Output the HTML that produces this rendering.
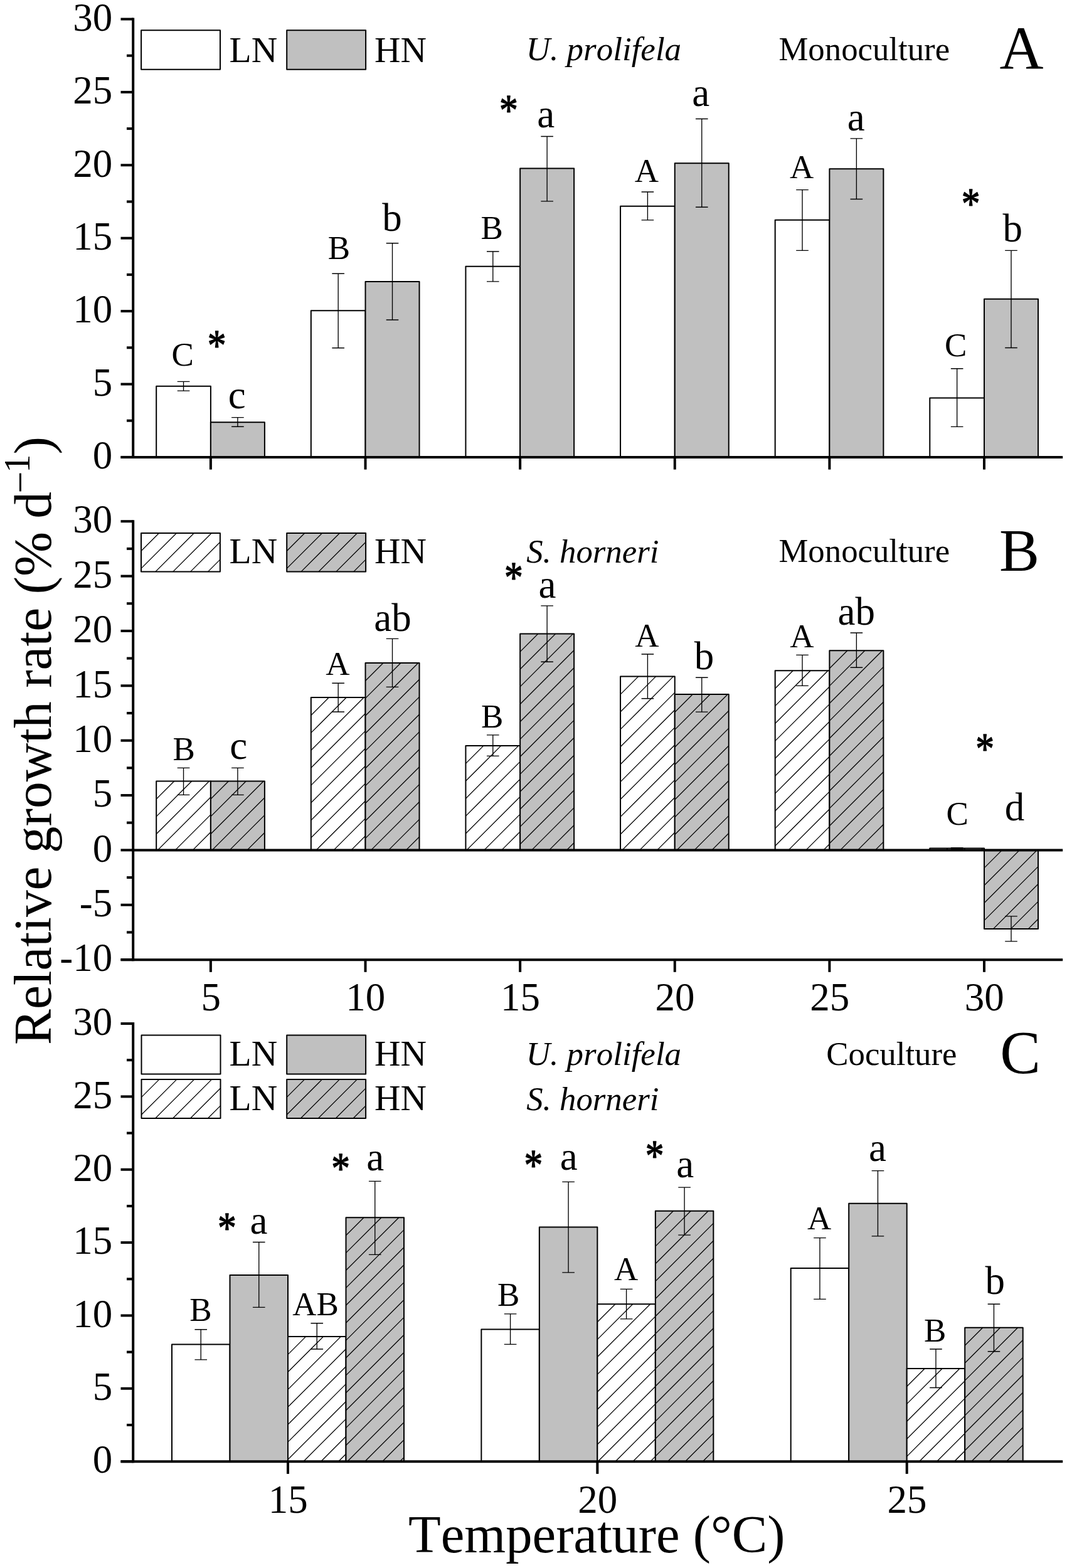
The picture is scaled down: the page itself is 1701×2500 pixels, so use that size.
<!DOCTYPE html>
<html lang="en"><head><meta charset="utf-8"><title>Relative growth rate vs temperature</title>
<style>
html,body{margin:0;padding:0;background:#fff;}
body{width:1701px;height:2500px;overflow:hidden;}
svg{display:block;}
text{font-family:"Liberation Serif",serif;fill:#000;stroke:none;font-kerning:none;}
</style></head><body>
<svg width="1701" height="2500" viewBox="0 0 1701 2500" stroke="#000" fill="none">
<rect width="1701" height="2500" fill="#fff" stroke="none"/>

<g id="panelA">
<rect x="249.2" y="615.7" width="86.7" height="113.2" fill="#fff" stroke-width="2.0" stroke-linejoin="round"/>
<rect x="335.9" y="673.3" width="86" height="55.6" fill="#c0c0c0" stroke-width="2.0" stroke-linejoin="round"/>
<path d="M292.55 608.3V623.1M282.75 608.3H302.35M282.75 623.1H302.35" stroke-width="1.35"/>
<path d="M378.9 665.6V680.2M369.1 665.6H388.7M369.1 680.2H388.7" stroke-width="1.35"/>
<rect x="495.82" y="495.2" width="86.7" height="233.7" fill="#fff" stroke-width="2.0" stroke-linejoin="round"/>
<rect x="582.52" y="449" width="86" height="279.9" fill="#c0c0c0" stroke-width="2.0" stroke-linejoin="round"/>
<path d="M539.17 436.2V554.7M529.37 436.2H548.97M529.37 554.7H548.97" stroke-width="1.35"/>
<path d="M625.52 387.7V510M615.72 387.7H635.32M615.72 510H635.32" stroke-width="1.35"/>
<rect x="742.44" y="424.7" width="86.7" height="304.2" fill="#fff" stroke-width="2.0" stroke-linejoin="round"/>
<rect x="829.14" y="268.6" width="86" height="460.3" fill="#c0c0c0" stroke-width="2.0" stroke-linejoin="round"/>
<path d="M785.79 401V448.9M775.99 401H795.59M775.99 448.9H795.59" stroke-width="1.35"/>
<path d="M872.14 217.5V320.9M862.34 217.5H881.94M862.34 320.9H881.94" stroke-width="1.35"/>
<rect x="989.06" y="328.8" width="86.7" height="400.1" fill="#fff" stroke-width="2.0" stroke-linejoin="round"/>
<rect x="1075.76" y="260.2" width="86" height="468.7" fill="#c0c0c0" stroke-width="2.0" stroke-linejoin="round"/>
<path d="M1032.41 306V350.9M1022.61 306H1042.21M1022.61 350.9H1042.21" stroke-width="1.35"/>
<path d="M1118.76 189.5V330.2M1108.96 189.5H1128.56M1108.96 330.2H1128.56" stroke-width="1.35"/>
<rect x="1235.68" y="350.8" width="86.7" height="378.1" fill="#fff" stroke-width="2.0" stroke-linejoin="round"/>
<rect x="1322.38" y="269.3" width="86" height="459.6" fill="#c0c0c0" stroke-width="2.0" stroke-linejoin="round"/>
<path d="M1279.03 302.6V399.4M1269.23 302.6H1288.83M1269.23 399.4H1288.83" stroke-width="1.35"/>
<path d="M1365.38 220.9V317.5M1355.58 220.9H1375.18M1355.58 317.5H1375.18" stroke-width="1.35"/>
<rect x="1482.3" y="634.4" width="86.7" height="94.5" fill="#fff" stroke-width="2.0" stroke-linejoin="round"/>
<rect x="1569" y="476.8" width="86" height="252.1" fill="#c0c0c0" stroke-width="2.0" stroke-linejoin="round"/>
<path d="M1525.65 587.7V680.4M1515.85 587.7H1535.45M1515.85 680.4H1535.45" stroke-width="1.35"/>
<path d="M1612 399.3V554.5M1602.2 399.3H1621.8M1602.2 554.5H1621.8" stroke-width="1.35"/>
<path d="M212.2 28.5L212.2 730.9" stroke-width="4.0"/>
<path d="M192.5 30.5L212.2 30.5" stroke-width="4.0"/>
<text x="179.2" y="48.7" font-size="63" text-anchor="end">30</text>
<path d="M202 88.7L212.2 88.7" stroke-width="4.0"/>
<path d="M192.5 146.9L212.2 146.9" stroke-width="4.0"/>
<text x="179.2" y="165.1" font-size="63" text-anchor="end">25</text>
<path d="M202 205.1L212.2 205.1" stroke-width="4.0"/>
<path d="M192.5 263.3L212.2 263.3" stroke-width="4.0"/>
<text x="179.2" y="281.5" font-size="63" text-anchor="end">20</text>
<path d="M202 321.5L212.2 321.5" stroke-width="4.0"/>
<path d="M192.5 379.7L212.2 379.7" stroke-width="4.0"/>
<text x="179.2" y="397.9" font-size="63" text-anchor="end">15</text>
<path d="M202 437.9L212.2 437.9" stroke-width="4.0"/>
<path d="M192.5 496.1L212.2 496.1" stroke-width="4.0"/>
<text x="179.2" y="514.3" font-size="63" text-anchor="end">10</text>
<path d="M202 554.3L212.2 554.3" stroke-width="4.0"/>
<path d="M192.5 612.5L212.2 612.5" stroke-width="4.0"/>
<text x="179.2" y="630.7" font-size="63" text-anchor="end">5</text>
<path d="M202 670.7L212.2 670.7" stroke-width="4.0"/>
<path d="M192.5 728.9L212.2 728.9" stroke-width="4.0"/>
<text x="179.2" y="747.1" font-size="63" text-anchor="end">0</text>
<path d="M192.5 728.9L1694.2 728.9" stroke-width="4.0"/>
<path d="M335.9 728.9L335.9 748.6" stroke-width="4.0"/>
<path d="M582.52 728.9L582.52 748.6" stroke-width="4.0"/>
<path d="M829.14 728.9L829.14 748.6" stroke-width="4.0"/>
<path d="M1075.76 728.9L1075.76 748.6" stroke-width="4.0"/>
<path d="M1322.38 728.9L1322.38 748.6" stroke-width="4.0"/>
<path d="M1569 728.9L1569 748.6" stroke-width="4.0"/>
<rect x="225.1" y="48.3" width="125.9" height="62.4" fill="#fff" stroke-width="2.0" stroke-linejoin="round"/>
<text x="365.6" y="98.8" font-size="57.5">LN</text>
<rect x="457.2" y="48.3" width="125.9" height="62.4" fill="#c0c0c0" stroke-width="2.0" stroke-linejoin="round"/>
<text x="597" y="98.8" font-size="57.5">HN</text>
<text x="838.8" y="96.2" font-size="53.0" font-style="italic">U. prolifela</text>
<text x="1241.4" y="96" font-size="52.8">Monoculture</text>
<text x="1593.45" y="109.3" font-size="97">A</text>
<text x="273.5" y="583.05" font-size="53">C</text>
<text x="363.7" y="650.7" font-size="63">c</text>
<text x="522.75" y="413.4" font-size="53">B</text>
<text x="609.35" y="368.05" font-size="63">b</text>
<text x="766.4" y="380.9" font-size="53">B</text>
<text x="856.2" y="203.05" font-size="63">a</text>
<text x="1011.8" y="289.8" font-size="53">A</text>
<text x="1103.25" y="169.1" font-size="63">a</text>
<text x="1259.05" y="283.6" font-size="53">A</text>
<text x="1350.75" y="208.25" font-size="63">a</text>
<text x="1505.95" y="567.7" font-size="53">C</text>
<text x="1598.5" y="384.6" font-size="63">b</text>
<text transform="translate(345.55 540.65) scale(0.93 1.08)" x="-16" y="30.5" font-size="64" style="stroke:#000;stroke-width:1.3px;stroke-linejoin:round">*</text>
<text transform="translate(810.95 166.2) scale(0.93 1.08)" x="-16" y="30.5" font-size="64" style="stroke:#000;stroke-width:1.3px;stroke-linejoin:round">*</text>
<text transform="translate(1547.5 314.9) scale(0.93 1.08)" x="-16" y="30.5" font-size="64" style="stroke:#000;stroke-width:1.3px;stroke-linejoin:round">*</text>
</g>
<g id="panelB">
<rect x="249.2" y="1245.5" width="86.7" height="109.9" fill="#fff" stroke-width="2.0" stroke-linejoin="round"/>
<path d="M249.2 1274L277.7 1245.5M249.2 1301.9L305.6 1245.5M249.2 1329.8L333.5 1245.5M251.5 1355.4L335.9 1271M279.4 1355.4L335.9 1298.9M307.3 1355.4L335.9 1326.8M335.2 1355.4L335.9 1354.7" stroke-width="1.3" stroke-linecap="butt"/>
<rect x="335.9" y="1245.5" width="86" height="109.9" fill="#c0c0c0" stroke-width="2.0" stroke-linejoin="round"/>
<path d="M335.9 1274L364.4 1245.5M335.9 1301.9L392.3 1245.5M335.9 1329.8L420.2 1245.5M338.2 1355.4L421.9 1271.7M366.1 1355.4L421.9 1299.6M394 1355.4L421.9 1327.5M421.9 1355.4L421.9 1355.4" stroke-width="1.3" stroke-linecap="butt"/>
<path d="M292.55 1224.3V1267.3M282.75 1224.3H302.35M282.75 1267.3H302.35" stroke-width="1.35"/>
<path d="M378.9 1224.3V1267.3M369.1 1224.3H388.7M369.1 1267.3H388.7" stroke-width="1.35"/>
<rect x="495.82" y="1112" width="86.7" height="243.4" fill="#fff" stroke-width="2.0" stroke-linejoin="round"/>
<path d="M495.82 1140.5L524.32 1112M495.82 1168.4L552.22 1112M495.82 1196.3L580.12 1112M495.82 1224.2L582.52 1137.5M495.82 1252.1L582.52 1165.4M495.82 1280L582.52 1193.3M495.82 1307.9L582.52 1221.2M495.82 1335.8L582.52 1249.1M504.12 1355.4L582.52 1277M532.02 1355.4L582.52 1304.9M559.92 1355.4L582.52 1332.8" stroke-width="1.3" stroke-linecap="butt"/>
<rect x="582.52" y="1057" width="86" height="298.4" fill="#c0c0c0" stroke-width="2.0" stroke-linejoin="round"/>
<path d="M582.52 1085.5L611.02 1057M582.52 1113.4L638.92 1057M582.52 1141.3L666.82 1057M582.52 1169.2L668.52 1083.2M582.52 1197.1L668.52 1111.1M582.52 1225L668.52 1139M582.52 1252.9L668.52 1166.9M582.52 1280.8L668.52 1194.8M582.52 1308.7L668.52 1222.7M582.52 1336.6L668.52 1250.6M591.62 1355.4L668.52 1278.5M619.52 1355.4L668.52 1306.4M647.42 1355.4L668.52 1334.3" stroke-width="1.3" stroke-linecap="butt"/>
<path d="M539.17 1089.2V1135M529.37 1089.2H548.97M529.37 1135H548.97" stroke-width="1.35"/>
<path d="M625.52 1018.3V1095.4M615.72 1018.3H635.32M615.72 1095.4H635.32" stroke-width="1.35"/>
<rect x="742.44" y="1188.9" width="86.7" height="166.5" fill="#fff" stroke-width="2.0" stroke-linejoin="round"/>
<path d="M742.44 1217.4L770.94 1188.9M742.44 1245.3L798.84 1188.9M742.44 1273.2L826.74 1188.9M742.44 1301.1L829.14 1214.4M742.44 1329L829.14 1242.3M743.94 1355.4L829.14 1270.2M771.84 1355.4L829.14 1298.1M799.74 1355.4L829.14 1326M827.64 1355.4L829.14 1353.9" stroke-width="1.3" stroke-linecap="butt"/>
<rect x="829.14" y="1010.6" width="86" height="344.8" fill="#c0c0c0" stroke-width="2.0" stroke-linejoin="round"/>
<path d="M829.14 1039.1L857.64 1010.6M829.14 1067L885.54 1010.6M829.14 1094.9L913.44 1010.6M829.14 1122.8L915.14 1036.8M829.14 1150.7L915.14 1064.7M829.14 1178.6L915.14 1092.6M829.14 1206.5L915.14 1120.5M829.14 1234.4L915.14 1148.4M829.14 1262.3L915.14 1176.3M829.14 1290.2L915.14 1204.2M829.14 1318.1L915.14 1232.1M829.14 1346L915.14 1260M847.64 1355.4L915.14 1287.9M875.54 1355.4L915.14 1315.8M903.44 1355.4L915.14 1343.7" stroke-width="1.3" stroke-linecap="butt"/>
<path d="M785.79 1171.8V1205.3M775.99 1171.8H795.59M775.99 1205.3H795.59" stroke-width="1.35"/>
<path d="M872.14 965.8V1055.2M862.34 965.8H881.94M862.34 1055.2H881.94" stroke-width="1.35"/>
<rect x="989.06" y="1078.6" width="86.7" height="276.8" fill="#fff" stroke-width="2.0" stroke-linejoin="round"/>
<path d="M989.06 1107.1L1017.56 1078.6M989.06 1135L1045.46 1078.6M989.06 1162.9L1073.36 1078.6M989.06 1190.8L1075.76 1104.1M989.06 1218.7L1075.76 1132M989.06 1246.6L1075.76 1159.9M989.06 1274.5L1075.76 1187.8M989.06 1302.4L1075.76 1215.7M989.06 1330.3L1075.76 1243.6M991.86 1355.4L1075.76 1271.5M1019.76 1355.4L1075.76 1299.4M1047.66 1355.4L1075.76 1327.3M1075.56 1355.4L1075.76 1355.2" stroke-width="1.3" stroke-linecap="butt"/>
<rect x="1075.76" y="1107" width="86" height="248.4" fill="#c0c0c0" stroke-width="2.0" stroke-linejoin="round"/>
<path d="M1075.76 1135.5L1104.26 1107M1075.76 1163.4L1132.16 1107M1075.76 1191.3L1160.06 1107M1075.76 1219.2L1161.76 1133.2M1075.76 1247.1L1161.76 1161.1M1075.76 1275L1161.76 1189M1075.76 1302.9L1161.76 1216.9M1075.76 1330.8L1161.76 1244.8M1079.06 1355.4L1161.76 1272.7M1106.96 1355.4L1161.76 1300.6M1134.86 1355.4L1161.76 1328.5" stroke-width="1.3" stroke-linecap="butt"/>
<path d="M1032.41 1043V1113.7M1022.61 1043H1042.21M1022.61 1113.7H1042.21" stroke-width="1.35"/>
<path d="M1118.76 1080.2V1135.1M1108.96 1080.2H1128.56M1108.96 1135.1H1128.56" stroke-width="1.35"/>
<rect x="1235.68" y="1069.2" width="86.7" height="286.2" fill="#fff" stroke-width="2.0" stroke-linejoin="round"/>
<path d="M1235.68 1097.7L1264.18 1069.2M1235.68 1125.6L1292.08 1069.2M1235.68 1153.5L1319.98 1069.2M1235.68 1181.4L1322.38 1094.7M1235.68 1209.3L1322.38 1122.6M1235.68 1237.2L1322.38 1150.5M1235.68 1265.1L1322.38 1178.4M1235.68 1293L1322.38 1206.3M1235.68 1320.9L1322.38 1234.2M1235.68 1348.8L1322.38 1262.1M1256.98 1355.4L1322.38 1290M1284.88 1355.4L1322.38 1317.9M1312.78 1355.4L1322.38 1345.8" stroke-width="1.3" stroke-linecap="butt"/>
<rect x="1322.38" y="1037.2" width="86" height="318.2" fill="#c0c0c0" stroke-width="2.0" stroke-linejoin="round"/>
<path d="M1322.38 1065.7L1350.88 1037.2M1322.38 1093.6L1378.78 1037.2M1322.38 1121.5L1406.68 1037.2M1322.38 1149.4L1408.38 1063.4M1322.38 1177.3L1408.38 1091.3M1322.38 1205.2L1408.38 1119.2M1322.38 1233.1L1408.38 1147.1M1322.38 1261L1408.38 1175M1322.38 1288.9L1408.38 1202.9M1322.38 1316.8L1408.38 1230.8M1322.38 1344.7L1408.38 1258.7M1339.58 1355.4L1408.38 1286.6M1367.48 1355.4L1408.38 1314.5M1395.38 1355.4L1408.38 1342.4" stroke-width="1.3" stroke-linecap="butt"/>
<path d="M1279.03 1044.4V1093.4M1269.23 1044.4H1288.83M1269.23 1093.4H1288.83" stroke-width="1.35"/>
<path d="M1365.38 1009V1064.2M1355.58 1009H1375.18M1355.58 1064.2H1375.18" stroke-width="1.35"/>
<rect x="1482.3" y="1352.6" width="86.7" height="2.8" fill="#fff" stroke-width="2.0" stroke-linejoin="round"/>
<path d="M1508 1355.4L1510.8 1352.6M1535.9 1355.4L1538.7 1352.6M1563.8 1355.4L1566.6 1352.6" stroke-width="1.3" stroke-linecap="butt"/>
<rect x="1569" y="1355.4" width="86" height="125.5" fill="#c0c0c0" stroke-width="2.0" stroke-linejoin="round"/>
<path d="M1569 1383.9L1597.5 1355.4M1569 1411.8L1625.4 1355.4M1569 1439.7L1653.3 1355.4M1569 1467.6L1655 1381.6M1583.6 1480.9L1655 1409.5M1611.5 1480.9L1655 1437.4M1639.4 1480.9L1655 1465.3" stroke-width="1.3" stroke-linecap="butt"/>
<path d="M1525.65 1351.6V1353.6M1515.85 1351.6H1535.45M1515.85 1353.6H1535.45" stroke-width="1.35"/>
<path d="M1612 1460.9V1500.9M1602.2 1460.9H1621.8M1602.2 1500.9H1621.8" stroke-width="1.35"/>
<path d="M212.2 829.2L212.2 1532.13" stroke-width="4.0"/>
<path d="M192.5 831.2L212.2 831.2" stroke-width="4.0"/>
<text x="179.2" y="849.4" font-size="63" text-anchor="end">30</text>
<path d="M202 874.88L212.2 874.88" stroke-width="4.0"/>
<path d="M192.5 918.57L212.2 918.57" stroke-width="4.0"/>
<text x="179.2" y="936.77" font-size="63" text-anchor="end">25</text>
<path d="M202 962.25L212.2 962.25" stroke-width="4.0"/>
<path d="M192.5 1005.93L212.2 1005.93" stroke-width="4.0"/>
<text x="179.2" y="1024.13" font-size="63" text-anchor="end">20</text>
<path d="M202 1049.62L212.2 1049.62" stroke-width="4.0"/>
<path d="M192.5 1093.3L212.2 1093.3" stroke-width="4.0"/>
<text x="179.2" y="1111.5" font-size="63" text-anchor="end">15</text>
<path d="M202 1136.98L212.2 1136.98" stroke-width="4.0"/>
<path d="M192.5 1180.67L212.2 1180.67" stroke-width="4.0"/>
<text x="179.2" y="1198.87" font-size="63" text-anchor="end">10</text>
<path d="M202 1224.35L212.2 1224.35" stroke-width="4.0"/>
<path d="M192.5 1268.03L212.2 1268.03" stroke-width="4.0"/>
<text x="179.2" y="1286.23" font-size="63" text-anchor="end">5</text>
<path d="M202 1311.72L212.2 1311.72" stroke-width="4.0"/>
<path d="M192.5 1355.4L212.2 1355.4" stroke-width="4.0"/>
<text x="179.2" y="1373.6" font-size="63" text-anchor="end">0</text>
<path d="M202 1399.08L212.2 1399.08" stroke-width="4.0"/>
<path d="M192.5 1442.77L212.2 1442.77" stroke-width="4.0"/>
<text x="179.2" y="1460.97" font-size="63" text-anchor="end">-5</text>
<path d="M202 1486.45L212.2 1486.45" stroke-width="4.0"/>
<path d="M192.5 1530.13L212.2 1530.13" stroke-width="4.0"/>
<text x="179.2" y="1548.33" font-size="63" text-anchor="end">-10</text>
<path d="M212.2 1355.4L1694.2 1355.4" stroke-width="4.0"/>
<path d="M192.5 1530.13L1694.2 1530.13" stroke-width="4.0"/>
<path d="M335.9 1530.13L335.9 1549.83" stroke-width="4.0"/>
<text x="336.2" y="1611" font-size="63" text-anchor="middle">5</text>
<path d="M582.52 1530.13L582.52 1549.83" stroke-width="4.0"/>
<text x="582.82" y="1611" font-size="63" text-anchor="middle">10</text>
<path d="M829.14 1530.13L829.14 1549.83" stroke-width="4.0"/>
<text x="829.44" y="1611" font-size="63" text-anchor="middle">15</text>
<path d="M1075.76 1530.13L1075.76 1549.83" stroke-width="4.0"/>
<text x="1076.06" y="1611" font-size="63" text-anchor="middle">20</text>
<path d="M1322.38 1530.13L1322.38 1549.83" stroke-width="4.0"/>
<text x="1322.68" y="1611" font-size="63" text-anchor="middle">25</text>
<path d="M1569 1530.13L1569 1549.83" stroke-width="4.0"/>
<text x="1569.3" y="1611" font-size="63" text-anchor="middle">30</text>
<rect x="225" y="850" width="125.9" height="61.6" fill="#fff" stroke-width="2.0" stroke-linejoin="round"/>
<path d="M225 878.5L253.5 850M225 906.4L281.4 850M247.7 911.6L309.3 850M275.6 911.6L337.2 850M303.5 911.6L350.9 864.2M331.4 911.6L350.9 892.1" stroke-width="1.3" stroke-linecap="butt"/>
<text x="365.6" y="897.6" font-size="57.5">LN</text>
<rect x="457.2" y="850" width="125.9" height="61.6" fill="#c0c0c0" stroke-width="2.0" stroke-linejoin="round"/>
<path d="M457.2 878.5L485.7 850M457.2 906.4L513.6 850M479.9 911.6L541.5 850M507.8 911.6L569.4 850M535.7 911.6L583.1 864.2M563.6 911.6L583.1 892.1" stroke-width="1.3" stroke-linecap="butt"/>
<text x="597" y="897.6" font-size="57.5">HN</text>
<text x="839.2" y="896.6" font-size="52.8" font-style="italic">S. horneri</text>
<text x="1241.4" y="896.2" font-size="52.8">Monoculture</text>
<text x="1592.9" y="910.15" font-size="96">B</text>
<text x="275.55" y="1211.6" font-size="53">B</text>
<text x="366.2" y="1209.85" font-size="63">c</text>
<text x="519.35" y="1076.4" font-size="53">A</text>
<text x="596.2" y="1005.9" font-size="63">ab</text>
<text x="767.05" y="1160.05" font-size="53">B</text>
<text x="858.6" y="953.05" font-size="63">a</text>
<text x="1012.3" y="1030.8" font-size="53">A</text>
<text x="1106.8" y="1066.75" font-size="63">b</text>
<text x="1259.25" y="1032.3" font-size="53">A</text>
<text x="1335.6" y="995.55" font-size="63">ab</text>
<text x="1508.6" y="1314.6" font-size="53">C</text>
<text x="1601.65" y="1308.15" font-size="63">d</text>
<text transform="translate(818.85 910.55) scale(0.93 1.08)" x="-16" y="30.5" font-size="64" style="stroke:#000;stroke-width:1.3px;stroke-linejoin:round">*</text>
<text transform="translate(1570.15 1184.35) scale(0.93 1.08)" x="-16" y="30.5" font-size="64" style="stroke:#000;stroke-width:1.3px;stroke-linejoin:round">*</text>
</g>
<g id="panelC">
<rect x="274" y="2143.6" width="92.5" height="186.6" fill="#fff" stroke-width="2.0" stroke-linejoin="round"/>
<rect x="366.5" y="2033.1" width="92.5" height="297.1" fill="#c0c0c0" stroke-width="2.0" stroke-linejoin="round"/>
<rect x="459" y="2131.1" width="92.5" height="199.1" fill="#fff" stroke-width="2.0" stroke-linejoin="round"/>
<path d="M459 2159.6L487.5 2131.1M459 2187.5L515.4 2131.1M459 2215.4L543.3 2131.1M459 2243.3L551.5 2150.8M459 2271.2L551.5 2178.7M459 2299.1L551.5 2206.6M459 2327L551.5 2234.5M483.7 2330.2L551.5 2262.4M511.6 2330.2L551.5 2290.3M539.5 2330.2L551.5 2318.2" stroke-width="1.3" stroke-linecap="butt"/>
<rect x="551.5" y="1941.2" width="92.5" height="389" fill="#c0c0c0" stroke-width="2.0" stroke-linejoin="round"/>
<path d="M551.5 1969.7L580 1941.2M551.5 1997.6L607.9 1941.2M551.5 2025.5L635.8 1941.2M551.5 2053.4L644 1960.9M551.5 2081.3L644 1988.8M551.5 2109.2L644 2016.7M551.5 2137.1L644 2044.6M551.5 2165L644 2072.5M551.5 2192.9L644 2100.4M551.5 2220.8L644 2128.3M551.5 2248.7L644 2156.2M551.5 2276.6L644 2184.1M551.5 2304.5L644 2212M553.7 2330.2L644 2239.9M581.6 2330.2L644 2267.8M609.5 2330.2L644 2295.7M637.4 2330.2L644 2323.6" stroke-width="1.3" stroke-linecap="butt"/>
<path d="M320.25 2119.7V2167.8M310.45 2119.7H330.05M310.45 2167.8H330.05" stroke-width="1.35"/>
<path d="M412.75 1980.5V2084.4M402.95 1980.5H422.55M402.95 2084.4H422.55" stroke-width="1.35"/>
<path d="M505.25 2109.7V2151M495.45 2109.7H515.05M495.45 2151H515.05" stroke-width="1.35"/>
<path d="M597.75 1883.4V2000.4M587.95 1883.4H607.55M587.95 2000.4H607.55" stroke-width="1.35"/>
<rect x="767.35" y="2119.4" width="92.5" height="210.8" fill="#fff" stroke-width="2.0" stroke-linejoin="round"/>
<rect x="859.85" y="1956.6" width="92.5" height="373.6" fill="#c0c0c0" stroke-width="2.0" stroke-linejoin="round"/>
<rect x="952.35" y="2079.2" width="92.5" height="251" fill="#fff" stroke-width="2.0" stroke-linejoin="round"/>
<path d="M952.35 2107.7L980.85 2079.2M952.35 2135.6L1008.75 2079.2M952.35 2163.5L1036.65 2079.2M952.35 2191.4L1044.85 2098.9M952.35 2219.3L1044.85 2126.8M952.35 2247.2L1044.85 2154.7M952.35 2275.1L1044.85 2182.6M952.35 2303L1044.85 2210.5M953.05 2330.2L1044.85 2238.4M980.95 2330.2L1044.85 2266.3M1008.85 2330.2L1044.85 2294.2M1036.75 2330.2L1044.85 2322.1" stroke-width="1.3" stroke-linecap="butt"/>
<rect x="1044.85" y="1930.7" width="92.5" height="399.5" fill="#c0c0c0" stroke-width="2.0" stroke-linejoin="round"/>
<path d="M1044.85 1959.2L1073.35 1930.7M1044.85 1987.1L1101.25 1930.7M1044.85 2015L1129.15 1930.7M1044.85 2042.9L1137.35 1950.4M1044.85 2070.8L1137.35 1978.3M1044.85 2098.7L1137.35 2006.2M1044.85 2126.6L1137.35 2034.1M1044.85 2154.5L1137.35 2062M1044.85 2182.4L1137.35 2089.9M1044.85 2210.3L1137.35 2117.8M1044.85 2238.2L1137.35 2145.7M1044.85 2266.1L1137.35 2173.6M1044.85 2294L1137.35 2201.5M1044.85 2321.9L1137.35 2229.4M1064.45 2330.2L1137.35 2257.3M1092.35 2330.2L1137.35 2285.2M1120.25 2330.2L1137.35 2313.1" stroke-width="1.3" stroke-linecap="butt"/>
<path d="M813.6 2094.9V2143.3M803.8 2094.9H823.4M803.8 2143.3H823.4" stroke-width="1.35"/>
<path d="M906.1 1884.3V2028.9M896.3 1884.3H915.9M896.3 2028.9H915.9" stroke-width="1.35"/>
<path d="M998.6 2055.3V2102.9M988.8 2055.3H1008.4M988.8 2102.9H1008.4" stroke-width="1.35"/>
<path d="M1091.1 1893.1V1969.1M1081.3 1893.1H1100.9M1081.3 1969.1H1100.9" stroke-width="1.35"/>
<rect x="1260.7" y="2022" width="92.5" height="308.2" fill="#fff" stroke-width="2.0" stroke-linejoin="round"/>
<rect x="1353.2" y="1918.7" width="92.5" height="411.5" fill="#c0c0c0" stroke-width="2.0" stroke-linejoin="round"/>
<rect x="1445.7" y="2182" width="92.5" height="148.2" fill="#fff" stroke-width="2.0" stroke-linejoin="round"/>
<path d="M1445.7 2210.5L1474.2 2182M1445.7 2238.4L1502.1 2182M1445.7 2266.3L1530 2182M1445.7 2294.2L1538.2 2201.7M1445.7 2322.1L1538.2 2229.6M1465.5 2330.2L1538.2 2257.5M1493.4 2330.2L1538.2 2285.4M1521.3 2330.2L1538.2 2313.3" stroke-width="1.3" stroke-linecap="butt"/>
<rect x="1538.2" y="2116.8" width="92.5" height="213.4" fill="#c0c0c0" stroke-width="2.0" stroke-linejoin="round"/>
<path d="M1538.2 2145.3L1566.7 2116.8M1538.2 2173.2L1594.6 2116.8M1538.2 2201.1L1622.5 2116.8M1538.2 2229L1630.7 2136.5M1538.2 2256.9L1630.7 2164.4M1538.2 2284.8L1630.7 2192.3M1538.2 2312.7L1630.7 2220.2M1548.6 2330.2L1630.7 2248.1M1576.5 2330.2L1630.7 2276M1604.4 2330.2L1630.7 2303.9" stroke-width="1.3" stroke-linecap="butt"/>
<path d="M1306.95 1973.6V2071.3M1297.15 1973.6H1316.75M1297.15 2071.3H1316.75" stroke-width="1.35"/>
<path d="M1399.45 1866.6V1970.8M1389.65 1866.6H1409.25M1389.65 1970.8H1409.25" stroke-width="1.35"/>
<path d="M1491.95 2151V2212.5M1482.15 2151H1501.75M1482.15 2212.5H1501.75" stroke-width="1.35"/>
<path d="M1584.45 2079.2V2154.7M1574.65 2079.2H1594.25M1574.65 2154.7H1594.25" stroke-width="1.35"/>
<path d="M212.2 1630L212.2 2332.2" stroke-width="4.0"/>
<path d="M192.5 1632L212.2 1632" stroke-width="4.0"/>
<text x="179.2" y="1650.2" font-size="63" text-anchor="end">30</text>
<path d="M202 1690.18L212.2 1690.18" stroke-width="4.0"/>
<path d="M192.5 1748.37L212.2 1748.37" stroke-width="4.0"/>
<text x="179.2" y="1766.57" font-size="63" text-anchor="end">25</text>
<path d="M202 1806.55L212.2 1806.55" stroke-width="4.0"/>
<path d="M192.5 1864.73L212.2 1864.73" stroke-width="4.0"/>
<text x="179.2" y="1882.93" font-size="63" text-anchor="end">20</text>
<path d="M202 1922.92L212.2 1922.92" stroke-width="4.0"/>
<path d="M192.5 1981.1L212.2 1981.1" stroke-width="4.0"/>
<text x="179.2" y="1999.3" font-size="63" text-anchor="end">15</text>
<path d="M202 2039.28L212.2 2039.28" stroke-width="4.0"/>
<path d="M192.5 2097.47L212.2 2097.47" stroke-width="4.0"/>
<text x="179.2" y="2115.67" font-size="63" text-anchor="end">10</text>
<path d="M202 2155.65L212.2 2155.65" stroke-width="4.0"/>
<path d="M192.5 2213.83L212.2 2213.83" stroke-width="4.0"/>
<text x="179.2" y="2232.03" font-size="63" text-anchor="end">5</text>
<path d="M202 2272.02L212.2 2272.02" stroke-width="4.0"/>
<path d="M192.5 2330.2L212.2 2330.2" stroke-width="4.0"/>
<text x="179.2" y="2348.4" font-size="63" text-anchor="end">0</text>
<path d="M192.5 2330.2L1694.2 2330.2" stroke-width="4.0"/>
<path d="M459 2330.2L459 2349.9" stroke-width="4.0"/>
<text x="459.3" y="2411.5" font-size="63" text-anchor="middle">15</text>
<path d="M952.35 2330.2L952.35 2349.9" stroke-width="4.0"/>
<text x="952.65" y="2411.5" font-size="63" text-anchor="middle">20</text>
<path d="M1445.7 2330.2L1445.7 2349.9" stroke-width="4.0"/>
<text x="1446" y="2411.5" font-size="63" text-anchor="middle">25</text>
<rect x="225.5" y="1650.5" width="126" height="62.1" fill="#fff" stroke-width="2.0" stroke-linejoin="round"/>
<text x="365.6" y="1699" font-size="57.5">LN</text>
<rect x="457.2" y="1650.5" width="125.9" height="62.1" fill="#c0c0c0" stroke-width="2.0" stroke-linejoin="round"/>
<text x="597" y="1699" font-size="57.5">HN</text>
<rect x="225.5" y="1720.9" width="126" height="62.1" fill="#fff" stroke-width="2.0" stroke-linejoin="round"/>
<path d="M225.5 1749.4L254 1720.9M225.5 1777.3L281.9 1720.9M247.7 1783L309.8 1720.9M275.6 1783L337.7 1720.9M303.5 1783L351.5 1735M331.4 1783L351.5 1762.9" stroke-width="1.3" stroke-linecap="butt"/>
<text x="365.6" y="1770" font-size="57.5">LN</text>
<rect x="457.2" y="1720.9" width="125.9" height="62.1" fill="#c0c0c0" stroke-width="2.0" stroke-linejoin="round"/>
<path d="M457.2 1749.4L485.7 1720.9M457.2 1777.3L513.6 1720.9M479.4 1783L541.5 1720.9M507.3 1783L569.4 1720.9M535.2 1783L583.1 1735.1M563.1 1783L583.1 1763" stroke-width="1.3" stroke-linecap="butt"/>
<text x="597" y="1770" font-size="57.5">HN</text>
<text x="838.8" y="1698" font-size="53.0" font-style="italic">U. prolifela</text>
<text x="839.2" y="1769.5" font-size="52.8" font-style="italic">S. horneri</text>
<text x="1317.3" y="1697.6" font-size="52.8">Coculture</text>
<text x="1594.3" y="1710.85" font-size="97">C</text>
<text x="302.25" y="2106" font-size="53">B</text>
<text x="398.6" y="1967.3" font-size="63">a</text>
<text x="466.35" y="2096.9" font-size="53">AB</text>
<text x="584.2" y="1865.55" font-size="63">a</text>
<text x="793.05" y="2081.95" font-size="53">B</text>
<text x="892.85" y="1865.25" font-size="63">a</text>
<text x="979.1" y="2041.25" font-size="53">A</text>
<text x="1078.2" y="1876.95" font-size="63">a</text>
<text x="1286.95" y="1959.7" font-size="53">A</text>
<text x="1384.9" y="1850.6" font-size="63">a</text>
<text x="1472.95" y="2138.85" font-size="53">B</text>
<text x="1570.6" y="2062.55" font-size="63">b</text>
<text transform="translate(361.9 1947.75) scale(0.93 1.08)" x="-16" y="30.5" font-size="64" style="stroke:#000;stroke-width:1.3px;stroke-linejoin:round">*</text>
<text transform="translate(543.2 1853.1) scale(0.93 1.08)" x="-16" y="30.5" font-size="64" style="stroke:#000;stroke-width:1.3px;stroke-linejoin:round">*</text>
<text transform="translate(850.4 1847.65) scale(0.93 1.08)" x="-16" y="30.5" font-size="64" style="stroke:#000;stroke-width:1.3px;stroke-linejoin:round">*</text>
<text transform="translate(1043.7 1833.15) scale(0.93 1.08)" x="-16" y="30.5" font-size="64" style="stroke:#000;stroke-width:1.3px;stroke-linejoin:round">*</text>
</g>
<text x="951.3" y="2475" font-size="84.7" text-anchor="middle">Temperature (°C)</text>
<text transform="translate(81 0) rotate(-90)" font-size="85.4"><tspan x="-1666.0" y="0">Relative growth rate (% d</tspan><tspan font-size="62" x="-786.5" y="-28.4">−</tspan><tspan font-size="59" x="-754.0" y="-34.3">1</tspan><tspan x="-724.5" y="0">)</tspan></text>
</svg></body></html>
